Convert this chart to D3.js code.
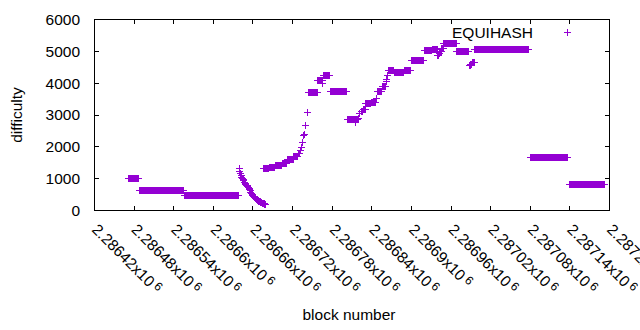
<!DOCTYPE html>
<html lang="en">
<head>
<meta charset="utf-8">
<title>EQUIHASH difficulty</title>
<script src="https://cdn.jsdelivr.net/npm/d3@7"></script>
<style>
  body { margin: 0; background: #fff; }
  svg { display: block; font-family: "Liberation Sans", Arial, sans-serif; font-size: 15.5px; }
  .mark { stroke: #9400d3; stroke-width: 1; fill: none; }
  .frame { fill: none; stroke: #000; stroke-width: 1; }
  .tick { stroke: #000; stroke-width: 1; }
</style>
</head>
<body>
<div id="chart"></div>
<script>
// plateaus: every block from runFrom to runTo has the same difficulty
var runFrom = [2286472, 2286488, 2286556, 2286676, 2286685, 2286694, 2286704, 2286712, 2286722, 2286729,
               2286744, 2286758, 2286767, 2286777, 2286803, 2286824, 2286827, 2286831, 2286839, 2286849,
               2286856, 2286865, 2286874, 2286889, 2286900, 2286920, 2286932, 2286940, 2286942, 2286944,
               2286946, 2286949, 2286969, 2286988, 2286990, 2286992, 2286996, 2287080, 2287139];
var runTo   = [2286487, 2286555, 2286638, 2286684, 2286693, 2286703, 2286711, 2286721, 2286728, 2286731,
               2286757, 2286764, 2286776, 2286802, 2286819, 2286826, 2286830, 2286838, 2286846, 2286855,
               2286860, 2286873, 2286888, 2286899, 2286919, 2286931, 2286939, 2286941, 2286943, 2286945,
               2286948, 2286968, 2286987, 2286989, 2286991, 2286995, 2287078, 2287137, 2287192];
var runDiff = [990, 635, 478, 1320, 1350, 1400, 1490, 1610, 1690, 1790,
               3705, 4080, 4240, 3740, 2860, 3100, 3180, 3350, 3400, 3750,
               3880, 4410, 4340, 4400, 4700, 5020, 5060, 4870, 4920, 4980,
               5080, 5240, 4990, 4560, 4600, 4640, 5045, 1670, 826];

// single blocks
var pointBlock = [2286639, 2286640, 2286641, 2286642, 2286643, 2286644, 2286645, 2286646, 2286647, 2286648,
                  2286649, 2286650, 2286651, 2286652, 2286653, 2286654, 2286655, 2286656, 2286657, 2286658,
                  2286659, 2286660, 2286661, 2286662, 2286663, 2286664, 2286665, 2286666, 2286667, 2286668,
                  2286669, 2286670, 2286671, 2286672, 2286673, 2286674, 2286675, 2286676, 2286677, 2286678,
                  2286679, 2286732, 2286733, 2286735, 2286737, 2286738, 2286740, 2286742, 2286765, 2286766,
                  2286815, 2286820, 2286822, 2286847, 2286862, 2286863, 2286864];
var pointDiff  = [1320, 1230, 1150, 1090, 1040, 990, 960, 930, 890, 860,
                  830, 800, 770, 745, 720, 690, 650, 615, 580, 545,
                  515, 485, 450, 425, 400, 380, 360, 345, 325, 305,
                  290, 280, 270, 255, 245, 235, 225, 215, 210, 200,
                  195, 1880, 1980, 2140, 2370, 2400, 2680, 3080, 3990, 4090,
                  2760, 2900, 3050, 3530, 4120, 4060, 4250];

var xTicks = [2286420, 2286480, 2286540, 2286600, 2286660, 2286720, 2286780,
              2286840, 2286900, 2286960, 2287020, 2287080, 2287140, 2287200];
var yTicks = [0, 1000, 2000, 3000, 4000, 5000, 6000];
var seriesName = "EQUIHASH";

var W = 640, H = 330;
var plotL = 94.5, plotR = 609.5, plotT = 19.5, plotB = 210.5;

var points = [];
runFrom.forEach(function(f, i) {
    for (var b = f; b <= runTo[i]; b++) points.push({block: b, diff: runDiff[i]});
});
pointBlock.forEach(function(b, i) { points.push({block: b, diff: pointDiff[i]}); });

var x = d3.scaleLinear().domain([xTicks[0], xTicks[xTicks.length - 1]]).range([plotL, plotR]);
var y = d3.scaleLinear().domain([0, 6000]).range([plotB, plotT]);

var svg = d3.select("#chart").append("svg").attr("width", W).attr("height", H);

function cross(cx, cy, s) {
    cx = Math.round(cx - 0.5) + 0.5;
    cy = Math.round(cy - 0.5) + 0.5;
    return "M" + (cx - s) + "," + cy + "H" + (cx + s) + "M" + cx + "," + (cy - s) + "V" + (cy + s);
}

// ticks, inward on all four sides
var tk = 4.5;
svg.selectAll(".xtick").data(xTicks).join("path")
    .attr("class", "tick xtick")
    .attr("d", function(d) {
        var px = Math.round(x(d) - 0.5) + 0.5;
        return "M" + px + "," + plotB + "v" + (-tk) + "M" + px + "," + plotT + "v" + tk;
    });
svg.selectAll(".ytick").data(yTicks).join("path")
    .attr("class", "tick ytick")
    .attr("d", function(d) {
        var py = Math.round(y(d) - 0.5) + 0.5;
        return "M" + plotL + "," + py + "h" + tk + "M" + plotR + "," + py + "h" + (-tk);
    });

svg.selectAll(".ylab").data(yTicks).join("text")
    .attr("class", "ylab")
    .attr("x", 80).attr("y", function(d) { return y(d); })
    .attr("dy", "0.35em").attr("text-anchor", "end")
    .text(function(d) { return d; });

var xl = svg.selectAll(".xlab").data(xTicks).join("text")
    .attr("class", "xlab")
    .attr("transform", function(d) { return "translate(" + x(d) + ",227) rotate(45)"; })
    .attr("dy", "0.32em");
xl.append("tspan").text(function(d) { return String(+(d / 1e6).toFixed(5)) + "x10"; });
xl.append("tspan").attr("dx", 3).attr("dy", -4).attr("font-size", "12px").text("6");

svg.append("text")
    .attr("transform", "translate(17,115) rotate(-90)")
    .attr("text-anchor", "middle").attr("dy", "0.35em")
    .text("difficulty");
svg.append("text")
    .attr("x", 349).attr("y", 315).attr("dy", "0.35em")
    .attr("text-anchor", "middle")
    .text("block number");

svg.selectAll(".mark").data(points).join("path")
    .attr("class", "mark")
    .attr("d", function(d) { return cross(x(d.block), y(d.diff), 3.5); });

// legend
svg.append("text").attr("x", 533).attr("y", 32.5).attr("dy", "0.35em")
    .attr("text-anchor", "end").text(seriesName);
svg.append("path").attr("class", "mark").attr("d", cross(567.5, 32.5, 3.5));

svg.append("rect").attr("class", "frame")
    .attr("x", plotL).attr("y", plotT).attr("width", plotR - plotL).attr("height", plotB - plotT);
</script>
</body>
</html>
